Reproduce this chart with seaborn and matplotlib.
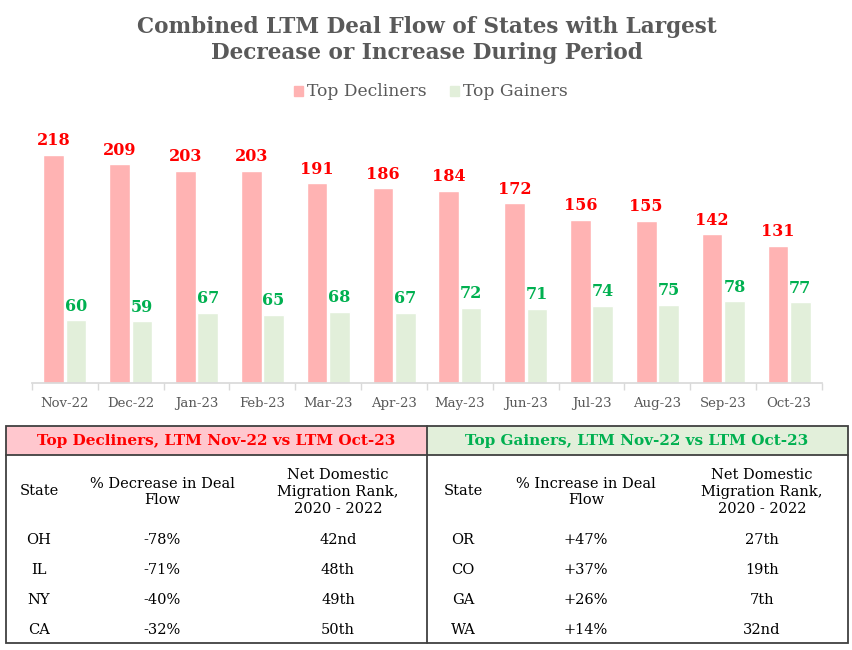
import pandas as pd
import numpy as np
import matplotlib.pyplot as plt
import seaborn as sns
from matplotlib.patches import Rectangle

# data --->
months = ["Nov-22", "Dec-22", "Jan-23", "Feb-23", "Mar-23", "Apr-23",
          "May-23", "Jun-23", "Jul-23", "Aug-23", "Sep-23", "Oct-23"]
decliners = [218, 209, 203, 203, 191, 186, 184, 172, 156, 155, 142, 131]
gainers = [60, 59, 67, 65, 68, 67, 72, 71, 74, 75, 78, 77]

decl_states = ["OH", "IL", "NY", "CA"]
decl_pct = ["-78%", "-71%", "-40%", "-32%"]
decl_rank = ["42nd", "48th", "49th", "50th"]

gain_states = ["OR", "CO", "GA", "WA"]
gain_pct = ["+47%", "+37%", "+26%", "+14%"]
gain_rank = ["27th", "19th", "7th", "32nd"]

df = pd.DataFrame({
    "Month": months * 2,
    "Deals": decliners + gainers,
    "Series": ["Top Decliners"] * len(months) + ["Top Gainers"] * len(months),
})

RED = "#FF0000"
GREEN = "#00B050"
PINK_BAR = "#FFB3B3"
GREEN_BAR = "#E2EFDA"
GRAY = "#595959"

sns.set_theme(style="white")
plt.rcParams['font.family'] = ['DejaVu Serif']

W, H = 853, 650
fig = plt.figure(figsize=(W / 100, H / 100), dpi=100)

# bar chart axes in pixel placement --->
base_y = 383
top_px = 228 * 250 / 218
ax = fig.add_axes([32 / W, (H - base_y) / H, 790 / W, top_px / H])

sns.barplot(data=df, x="Month", y="Deals", hue="Series",
            palette=[PINK_BAR, GREEN_BAR], width=0.68, gap=0.08,
            saturation=1, ax=ax, legend=False)
ax.set_ylim(0, 250)
ax.set_xlim(-0.5, len(months) - 0.5)

for cont, col in zip(ax.containers, [RED, GREEN]):
    ax.bar_label(cont, color=col, fontweight="bold", fontsize=11.5, padding=4)

for s in ["top", "right", "left"]:
    ax.spines[s].set_visible(False)
ax.spines["bottom"].set_color("#D9D9D9")
ax.set_yticks([])
ax.set_xlabel("")
ax.set_ylabel("")
ax.tick_params(axis="x", length=0, colors=GRAY, labelsize=9.5, pad=10)
ax.set_xticks(np.arange(-0.5, len(months), 1.0), minor=True)
ax.tick_params(axis="x", which="minor", length=5, color="#D9D9D9", bottom=True)

# title and legend --->
fig.text(0.5, 1 - 27 / H, "Combined LTM Deal Flow of States with Largest",
         ha="center", va="center", fontsize=15.5, fontweight="bold", color=GRAY)
fig.text(0.5, 1 - 53 / H, "Decrease or Increase During Period",
         ha="center", va="center", fontsize=15.5, fontweight="bold", color=GRAY)

ov = fig.add_axes([0, 0, 1, 1], zorder=-1)
ov.set_xlim(0, W)
ov.set_ylim(H, 0)
ov.axis("off")

ov.add_patch(Rectangle((294, 86), 9, 10, color=PINK_BAR))
ov.text(307, 91, "Top Decliners", va="center", fontsize=12.3, color=GRAY)
ov.add_patch(Rectangle((450, 86), 9, 10, color=GREEN_BAR))
ov.text(463, 91, "Top Gainers", va="center", fontsize=12.3, color=GRAY)

# tables underneath --->
edge = "#404040"
ov.add_patch(Rectangle((6, 426), 421, 29, facecolor="#FFC7CE", edgecolor="none"))
ov.add_patch(Rectangle((427, 426), 421, 29, facecolor="#E2EFDA", edgecolor="none"))
ov.add_patch(Rectangle((6, 426), 842, 217, facecolor="none", edgecolor=edge, lw=1.3))
ov.plot([6, 848], [455, 455], color=edge, lw=1.3)
ov.plot([427, 427], [426, 643], color=edge, lw=1.3)

ov.text(216, 441, "Top Decliners, LTM Nov-22 vs LTM Oct-23", ha="center", va="center",
        fontsize=11, fontweight="bold", color=RED)
ov.text(637, 441, "Top Gainers, LTM Nov-22 vs LTM Oct-23", ha="center", va="center",
        fontsize=11, fontweight="bold", color=GREEN)

row_y = [540, 570, 600, 630]
tables = [
    (0, "% Decrease in Deal\nFlow", decl_states, decl_pct, decl_rank),
    (424, "% Increase in Deal\nFlow", gain_states, gain_pct, gain_rank),
]
for dx, pct_head, states, pcts, ranks in tables:
    cx = [39 + dx, 162 + dx, 338 + dx]
    ov.text(cx[0], 491, "State", ha="center", va="center", fontsize=10.5, color="black")
    ov.text(cx[1], 492, pct_head, ha="center", va="center", fontsize=10.5,
            color="black", linespacing=1.25)
    ov.text(cx[2], 492, "Net Domestic\nMigration Rank,\n2020 - 2022", ha="center",
            va="center", fontsize=10.5, color="black", linespacing=1.25)
    for y, st, p, r in zip(row_y, states, pcts, ranks):
        ov.text(cx[0], y, st, ha="center", va="center", fontsize=10.5, color="black")
        ov.text(cx[1], y, p, ha="center", va="center", fontsize=10.5, color="black")
        ov.text(cx[2], y, r, ha="center", va="center", fontsize=10.5, color="black")

plt.savefig("out.png", dpi=100)
